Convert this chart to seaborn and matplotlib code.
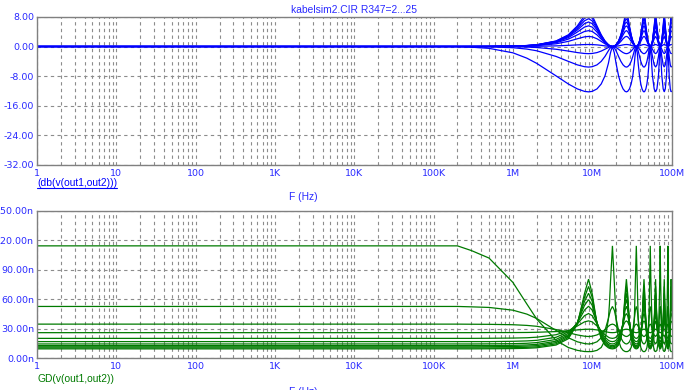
import numpy as np
import pandas as pd
import matplotlib
matplotlib.use('Agg')
import matplotlib.pyplot as plt
from matplotlib.ticker import LogLocator, FixedLocator, FixedFormatter, NullFormatter
from matplotlib.lines import Line2D
import seaborn as sns

# sweep frequencies (Hz), shared by every trace
freq_hz = [1, 2e5, 3e5, 5e5, 1e6, 1.5e6, 2e6, 3.5e6, 5e6, 6.5e6, 8e6, 9e6, 10e6, 11.5e6, 13e6, 14.5e6, 16e6, 16.5e6, 17e6, 18e6,
           19e6, 20e6, 21.5e6, 23e6, 24.5e6, 26e6, 27e6, 28e6, 29.5e6, 31e6, 32.5e6, 34e6, 35e6, 36e6,
           37e6, 38e6, 39.5e6, 41e6, 42.5e6, 44e6, 45e6, 46e6, 47.5e6, 49e6, 50.5e6, 52e6, 53e6, 54e6,
           55e6, 57.5e6, 60.5e6, 63e6, 65.5e6, 68.5e6, 71e6, 72e6,
           73e6, 75.5e6, 78.5e6, 81e6, 83.5e6, 86.5e6, 89e6, 90e6,
           91e6, 93.5e6, 96.5e6, 99e6, 100e6]

r347 = [2, 4.3, 6.6, 8.9, 11.2, 13.5, 15.8, 18.1, 20.4, 22.7, 25]

# db(v(out1,out2)) for each R347 step
db_0 = [0, 0, -0.19, -0.50, -1.71, -3.16, -4.58, -7.96, -10.16, -11.50, -12.17, -12.30, -12.17, -11.50, -10.16, -7.96, -4.58, -3.16, -1.71, 0,
        -1.71, -4.58, -7.96, -10.16, -11.50, -12.17, -12.30, -12.17, -11.50, -10.16, -7.96, -4.58, -1.71, 0,
        -1.71, -4.58, -7.96, -10.16, -11.50, -12.17, -12.30, -12.17, -11.50, -10.16, -7.96, -4.58, -1.71, 0,
        -1.71, -7.96, -11.50, -12.30, -11.50, -7.96, -1.71, 0,
        -1.71, -7.96, -11.50, -12.30, -11.50, -7.96, -1.71, 0,
        -1.71, -7.96, -11.50, -12.30, -12.17]
db_1 = [0, 0, -0.03, -0.09, -0.33, -0.70, -1.16, -2.69, -4.03, -4.98, -5.48, -5.58, -5.48, -4.98, -4.03, -2.69, -1.16, -0.70, -0.33, 0,
        -0.33, -1.16, -2.69, -4.03, -4.98, -5.48, -5.58, -5.48, -4.98, -4.03, -2.69, -1.16, -0.33, 0,
        -0.33, -1.16, -2.69, -4.03, -4.98, -5.48, -5.58, -5.48, -4.98, -4.03, -2.69, -1.16, -0.33, 0,
        -0.33, -2.69, -4.98, -5.58, -4.98, -2.69, -0.33, 0,
        -0.33, -2.69, -4.98, -5.58, -4.98, -2.69, -0.33, 0,
        -0.33, -2.69, -4.98, -5.58, -5.48]
db_2 = [0, 0, -0.01, -0.02, -0.07, -0.16, -0.28, -0.74, -1.24, -1.65, -1.89, -1.94, -1.89, -1.65, -1.24, -0.74, -0.28, -0.16, -0.07, 0,
        -0.07, -0.28, -0.74, -1.24, -1.65, -1.89, -1.94, -1.89, -1.65, -1.24, -0.74, -0.28, -0.07, 0,
        -0.07, -0.28, -0.74, -1.24, -1.65, -1.89, -1.94, -1.89, -1.65, -1.24, -0.74, -0.28, -0.07, 0,
        -0.07, -0.74, -1.65, -1.94, -1.65, -0.74, -0.07, 0,
        -0.07, -0.74, -1.65, -1.94, -1.65, -0.74, -0.07, 0,
        -0.07, -0.74, -1.65, -1.94, -1.89]
db_3 = [0, 0, 0.00, 0.00, 0.02, 0.03, 0.06, 0.17, 0.31, 0.44, 0.52, 0.54, 0.52, 0.44, 0.31, 0.17, 0.06, 0.03, 0.02, 0,
        0.02, 0.06, 0.17, 0.31, 0.44, 0.52, 0.54, 0.52, 0.44, 0.31, 0.17, 0.06, 0.02, 0,
        0.02, 0.06, 0.17, 0.31, 0.44, 0.52, 0.54, 0.52, 0.44, 0.31, 0.17, 0.06, 0.02, 0,
        0.02, 0.17, 0.44, 0.54, 0.44, 0.17, 0.02, 0,
        0.02, 0.17, 0.44, 0.54, 0.44, 0.17, 0.02, 0,
        0.02, 0.17, 0.44, 0.54, 0.52]
db_4 = [0, 0, 0.01, 0.02, 0.06, 0.14, 0.24, 0.73, 1.39, 2.10, 2.62, 2.73, 2.62, 2.10, 1.39, 0.73, 0.24, 0.14, 0.06, 0,
        0.06, 0.24, 0.73, 1.39, 2.10, 2.62, 2.73, 2.62, 2.10, 1.39, 0.73, 0.24, 0.06, 0,
        0.06, 0.24, 0.73, 1.39, 2.10, 2.62, 2.73, 2.62, 2.10, 1.39, 0.73, 0.24, 0.06, 0,
        0.06, 0.73, 2.10, 2.73, 2.10, 0.73, 0.06, 0,
        0.06, 0.73, 2.10, 2.73, 2.10, 0.73, 0.06, 0,
        0.06, 0.73, 2.10, 2.73, 2.62]
db_5 = [0, 0, 0.01, 0.02, 0.08, 0.19, 0.33, 1.01, 2.00, 3.15, 4.08, 4.29, 4.08, 3.15, 2.00, 1.01, 0.33, 0.19, 0.08, 0,
        0.08, 0.33, 1.01, 2.00, 3.15, 4.08, 4.29, 4.08, 3.15, 2.00, 1.01, 0.33, 0.08, 0,
        0.08, 0.33, 1.01, 2.00, 3.15, 4.08, 4.29, 4.08, 3.15, 2.00, 1.01, 0.33, 0.08, 0,
        0.08, 1.01, 3.15, 4.29, 3.15, 1.01, 0.08, 0,
        0.08, 1.01, 3.15, 4.29, 3.15, 1.01, 0.08, 0,
        0.08, 1.01, 3.15, 4.29, 4.08]
db_6 = [0, 0, 0.01, 0.02, 0.10, 0.22, 0.39, 1.18, 2.40, 3.93, 5.27, 5.60, 5.27, 3.93, 2.40, 1.18, 0.39, 0.22, 0.10, 0,
        0.10, 0.39, 1.18, 2.40, 3.93, 5.27, 5.60, 5.27, 3.93, 2.40, 1.18, 0.39, 0.10, 0,
        0.10, 0.39, 1.18, 2.40, 3.93, 5.27, 5.60, 5.27, 3.93, 2.40, 1.18, 0.39, 0.10, 0,
        0.10, 1.18, 3.93, 5.60, 3.93, 1.18, 0.10, 0,
        0.10, 1.18, 3.93, 5.60, 3.93, 1.18, 0.10, 0,
        0.10, 1.18, 3.93, 5.60, 5.27]
db_7 = [0, 0, 0.01, 0.03, 0.10, 0.23, 0.42, 1.30, 2.68, 4.48, 6.20, 6.65, 6.20, 4.48, 2.68, 1.30, 0.42, 0.23, 0.10, 0,
        0.10, 0.42, 1.30, 2.68, 4.48, 6.20, 6.65, 6.20, 4.48, 2.68, 1.30, 0.42, 0.10, 0,
        0.10, 0.42, 1.30, 2.68, 4.48, 6.20, 6.65, 6.20, 4.48, 2.68, 1.30, 0.42, 0.10, 0,
        0.10, 1.30, 4.48, 6.65, 4.48, 1.30, 0.10, 0,
        0.10, 1.30, 4.48, 6.65, 4.48, 1.30, 0.10, 0,
        0.10, 1.30, 4.48, 6.65, 6.20]
db_8 = [0, 0, 0.01, 0.03, 0.11, 0.25, 0.44, 1.37, 2.87, 4.90, 6.96, 7.54, 6.96, 4.90, 2.87, 1.37, 0.44, 0.25, 0.11, 0,
        0.11, 0.44, 1.37, 2.87, 4.90, 6.96, 7.54, 6.96, 4.90, 2.87, 1.37, 0.44, 0.11, 0,
        0.11, 0.44, 1.37, 2.87, 4.90, 6.96, 7.54, 6.96, 4.90, 2.87, 1.37, 0.44, 0.11, 0,
        0.11, 1.37, 4.90, 7.54, 4.90, 1.37, 0.11, 0,
        0.11, 1.37, 4.90, 7.54, 4.90, 1.37, 0.11, 0,
        0.11, 1.37, 4.90, 7.54, 6.96]
db_9 = [0, 0, 0.01, 0.03, 0.11, 0.26, 0.46, 1.44, 3.03, 5.27, 7.69, 8.40, 7.69, 5.27, 3.03, 1.44, 0.46, 0.26, 0.11, 0,
        0.11, 0.46, 1.44, 3.03, 5.27, 7.69, 8.40, 7.69, 5.27, 3.03, 1.44, 0.46, 0.11, 0,
        0.11, 0.46, 1.44, 3.03, 5.27, 7.69, 8.40, 7.69, 5.27, 3.03, 1.44, 0.46, 0.11, 0,
        0.11, 1.44, 5.27, 8.40, 5.27, 1.44, 0.11, 0,
        0.11, 1.44, 5.27, 8.40, 5.27, 1.44, 0.11, 0,
        0.11, 1.44, 5.27, 8.40, 7.69]
db_10 = [0, 0, 0.01, 0.03, 0.12, 0.26, 0.47, 1.49, 3.16, 5.59, 8.37, 9.24, 8.37, 5.59, 3.16, 1.49, 0.47, 0.26, 0.12, 0,
         0.12, 0.47, 1.49, 3.16, 5.59, 8.37, 9.24, 8.37, 5.59, 3.16, 1.49, 0.47, 0.12, 0,
         0.12, 0.47, 1.49, 3.16, 5.59, 8.37, 9.24, 8.37, 5.59, 3.16, 1.49, 0.47, 0.12, 0,
         0.12, 1.49, 5.59, 9.24, 5.59, 1.49, 0.12, 0,
         0.12, 1.49, 5.59, 9.24, 5.59, 1.49, 0.12, 0,
         0.12, 1.49, 5.59, 9.24, 8.37]

# GD(v(out1,out2)) in ns for each R347 step
gd_0 = [114.5, 114.5, 109.7, 102.1, 77.3, 55.3, 39.9, 18.3, 11.0, 8.1, 6.9, 6.8, 6.9, 8.1, 11.0, 18.3, 39.9, 55.3, 77.3, 114.5,
        77.3, 39.9, 18.3, 11.0, 8.1, 6.9, 6.8, 6.9, 8.1, 11.0, 18.3, 39.9, 77.3, 114.5,
        77.3, 39.9, 18.3, 11.0, 8.1, 6.9, 6.8, 6.9, 8.1, 11.0, 18.3, 39.9, 77.3, 114.5,
        77.3, 18.3, 8.1, 6.8, 8.1, 18.3, 77.3, 114.5,
        77.3, 18.3, 8.1, 6.8, 8.1, 18.3, 77.3, 114.5,
        77.3, 18.3, 8.1, 6.8, 6.9]
gd_1 = [52.8, 52.8, 52.4, 51.8, 49.0, 45.0, 40.5, 28.4, 20.9, 16.8, 15.0, 14.6, 15.0, 16.8, 20.9, 28.4, 40.5, 45.0, 49.0, 52.8,
        49.0, 40.5, 28.4, 20.9, 16.8, 15.0, 14.6, 15.0, 16.8, 20.9, 28.4, 40.5, 49.0, 52.8,
        49.0, 40.5, 28.4, 20.9, 16.8, 15.0, 14.6, 15.0, 16.8, 20.9, 28.4, 40.5, 49.0, 52.8,
        49.0, 28.4, 16.8, 14.6, 16.8, 28.4, 49.0, 52.8,
        49.0, 28.4, 16.8, 14.6, 16.8, 28.4, 49.0, 52.8,
        49.0, 28.4, 16.8, 14.6, 15.0]
gd_2 = [34.8, 34.8, 34.7, 34.6, 34.2, 33.5, 32.6, 29.3, 26.1, 23.8, 22.5, 22.2, 22.5, 23.8, 26.1, 29.3, 32.6, 33.5, 34.2, 34.8,
        34.2, 32.6, 29.3, 26.1, 23.8, 22.5, 22.2, 22.5, 23.8, 26.1, 29.3, 32.6, 34.2, 34.8,
        34.2, 32.6, 29.3, 26.1, 23.8, 22.5, 22.2, 22.5, 23.8, 26.1, 29.3, 32.6, 34.2, 34.8,
        34.2, 29.3, 23.8, 22.2, 23.8, 29.3, 34.2, 34.8,
        34.2, 29.3, 23.8, 22.2, 23.8, 29.3, 34.2, 34.8,
        34.2, 29.3, 23.8, 22.2, 22.5]
gd_3 = [26.1, 26.1, 26.1, 26.2, 26.2, 26.3, 26.5, 27.2, 28.1, 28.9, 29.5, 29.6, 29.5, 28.9, 28.1, 27.2, 26.5, 26.3, 26.2, 26.1,
        26.2, 26.5, 27.2, 28.1, 28.9, 29.5, 29.6, 29.5, 28.9, 28.1, 27.2, 26.5, 26.2, 26.1,
        26.2, 26.5, 27.2, 28.1, 28.9, 29.5, 29.6, 29.5, 28.9, 28.1, 27.2, 26.5, 26.2, 26.1,
        26.2, 27.2, 28.9, 29.6, 28.9, 27.2, 26.2, 26.1,
        26.2, 27.2, 28.9, 29.6, 28.9, 27.2, 26.2, 26.1,
        26.2, 27.2, 28.9, 29.6, 29.5]
gd_4 = [20.3, 20.3, 20.3, 20.4, 20.6, 20.9, 21.5, 24.0, 28.0, 32.9, 37.1, 38.1, 37.1, 32.9, 28.0, 24.0, 21.5, 20.9, 20.6, 20.3,
        20.6, 21.5, 24.0, 28.0, 32.9, 37.1, 38.1, 37.1, 32.9, 28.0, 24.0, 21.5, 20.6, 20.3,
        20.6, 21.5, 24.0, 28.0, 32.9, 37.1, 38.1, 37.1, 32.9, 28.0, 24.0, 21.5, 20.6, 20.3,
        20.6, 24.0, 32.9, 38.1, 32.9, 24.0, 20.6, 20.3,
        20.6, 24.0, 32.9, 38.1, 32.9, 24.0, 20.6, 20.3,
        20.6, 24.0, 32.9, 38.1, 37.1]
gd_5 = [17.0, 17.0, 17.0, 17.0, 17.3, 17.7, 18.3, 21.4, 26.9, 35.0, 43.4, 45.6, 43.4, 35.0, 26.9, 21.4, 18.3, 17.7, 17.3, 17.0,
        17.3, 18.3, 21.4, 26.9, 35.0, 43.4, 45.6, 43.4, 35.0, 26.9, 21.4, 18.3, 17.3, 17.0,
        17.3, 18.3, 21.4, 26.9, 35.0, 43.4, 45.6, 43.4, 35.0, 26.9, 21.4, 18.3, 17.3, 17.0,
        17.3, 21.4, 35.0, 45.6, 35.0, 21.4, 17.3, 17.0,
        17.3, 21.4, 35.0, 45.6, 35.0, 21.4, 17.3, 17.0,
        17.3, 21.4, 35.0, 45.6, 43.4]
gd_6 = [14.6, 14.6, 14.6, 14.7, 14.9, 15.3, 16.0, 19.2, 25.4, 36.0, 49.1, 53.0, 49.1, 36.0, 25.4, 19.2, 16.0, 15.3, 14.9, 14.6,
        14.9, 16.0, 19.2, 25.4, 36.0, 49.1, 53.0, 49.1, 36.0, 25.4, 19.2, 16.0, 14.9, 14.6,
        14.9, 16.0, 19.2, 25.4, 36.0, 49.1, 53.0, 49.1, 36.0, 25.4, 19.2, 16.0, 14.9, 14.6,
        14.9, 19.2, 36.0, 53.0, 36.0, 19.2, 14.9, 14.6,
        14.9, 19.2, 36.0, 53.0, 36.0, 19.2, 14.9, 14.6,
        14.9, 19.2, 36.0, 53.0, 49.1]
gd_7 = [12.9, 12.9, 13.0, 13.0, 13.2, 13.6, 14.2, 17.4, 23.9, 36.3, 53.9, 59.8, 53.9, 36.3, 23.9, 17.4, 14.2, 13.6, 13.2, 12.9,
        13.2, 14.2, 17.4, 23.9, 36.3, 53.9, 59.8, 53.9, 36.3, 23.9, 17.4, 14.2, 13.2, 12.9,
        13.2, 14.2, 17.4, 23.9, 36.3, 53.9, 59.8, 53.9, 36.3, 23.9, 17.4, 14.2, 13.2, 12.9,
        13.2, 17.4, 36.3, 59.8, 36.3, 17.4, 13.2, 12.9,
        13.2, 17.4, 36.3, 59.8, 36.3, 17.4, 13.2, 12.9,
        13.2, 17.4, 36.3, 59.8, 53.9]
gd_8 = [11.7, 11.7, 11.7, 11.8, 12.0, 12.4, 12.9, 16.0, 22.6, 36.1, 58.0, 66.2, 58.0, 36.1, 22.6, 16.0, 12.9, 12.4, 12.0, 11.7,
        12.0, 12.9, 16.0, 22.6, 36.1, 58.0, 66.2, 58.0, 36.1, 22.6, 16.0, 12.9, 12.0, 11.7,
        12.0, 12.9, 16.0, 22.6, 36.1, 58.0, 66.2, 58.0, 36.1, 22.6, 16.0, 12.9, 12.0, 11.7,
        12.0, 16.0, 36.1, 66.2, 36.1, 16.0, 12.0, 11.7,
        12.0, 16.0, 36.1, 66.2, 36.1, 16.0, 12.0, 11.7,
        12.0, 16.0, 36.1, 66.2, 58.0]
gd_9 = [10.6, 10.6, 10.6, 10.6, 10.8, 11.2, 11.7, 14.7, 21.2, 35.5, 62.1, 73.2, 62.1, 35.5, 21.2, 14.7, 11.7, 11.2, 10.8, 10.6,
        10.8, 11.7, 14.7, 21.2, 35.5, 62.1, 73.2, 62.1, 35.5, 21.2, 14.7, 11.7, 10.8, 10.6,
        10.8, 11.7, 14.7, 21.2, 35.5, 62.1, 73.2, 62.1, 35.5, 21.2, 14.7, 11.7, 10.8, 10.6,
        10.8, 14.7, 35.5, 73.2, 35.5, 14.7, 10.8, 10.6,
        10.8, 14.7, 35.5, 73.2, 35.5, 14.7, 10.8, 10.6,
        10.8, 14.7, 35.5, 73.2, 62.1]
gd_10 = [9.6, 9.6, 9.6, 9.7, 9.9, 10.2, 10.7, 13.5, 19.9, 34.7, 65.9, 80.6, 65.9, 34.7, 19.9, 13.5, 10.7, 10.2, 9.9, 9.6,
         9.9, 10.7, 13.5, 19.9, 34.7, 65.9, 80.6, 65.9, 34.7, 19.9, 13.5, 10.7, 9.9, 9.6,
         9.9, 10.7, 13.5, 19.9, 34.7, 65.9, 80.6, 65.9, 34.7, 19.9, 13.5, 10.7, 9.9, 9.6,
         9.9, 13.5, 34.7, 80.6, 34.7, 13.5, 9.9, 9.6,
         9.9, 13.5, 34.7, 80.6, 34.7, 13.5, 9.9, 9.6,
         9.9, 13.5, 34.7, 80.6, 65.9]

db_traces = [db_0, db_1, db_2, db_3, db_4, db_5, db_6, db_7, db_8, db_9, db_10]
gd_traces = [gd_0, gd_1, gd_2, gd_3, gd_4, gd_5, gd_6, gd_7, gd_8, gd_9, gd_10]

x_tick_vals = [1, 10, 100, 1e3, 1e4, 1e5, 1e6, 1e7, 1e8]
x_tick_text = ['1', '10', '100', '1K', '10K', '100K', '1M', '10M', '100M']
db_ticks = [-32, -24, -16, -8, 0, 8]
gd_ticks = [0, 30, 60, 90, 120, 150]

sns.set_theme(style='white')
plt.rcParams['font.family'] = ['Liberation Sans', 'DejaVu Sans']
plt.rcParams['lines.solid_joinstyle'] = 'miter'

LABEL_BLUE = '#2a2aff'
GRID = '#8c8c8c'
FS = 7.4
TICK_FS = 6.8


def build_frame(traces):
    rows = []
    for r, vals in zip(r347, traces):
        rows.append(pd.DataFrame({'f': freq_hz, 'v': vals, 'r': r}))
    return pd.concat(rows, ignore_index=True)


def style_axes(ax, yticks, yfmt, ylim):
    ax.set_xscale('log')
    ax.set_xlim(1, 1e8)
    ax.set_ylim(*ylim)
    ax.xaxis.set_major_locator(FixedLocator(x_tick_vals))
    ax.xaxis.set_major_formatter(FixedFormatter(x_tick_text))
    ax.xaxis.set_minor_locator(LogLocator(base=10, subs=np.arange(2, 10), numticks=20))
    ax.xaxis.set_minor_formatter(NullFormatter())
    ax.yaxis.set_major_locator(FixedLocator(yticks))
    ax.set_yticklabels([yfmt % t for t in yticks])
    ax.tick_params(axis='both', which='both', length=0, labelsize=TICK_FS,
                   labelcolor=LABEL_BLUE, labelfontfamily='DejaVu Sans')
    ax.tick_params(axis='x', pad=3)
    ax.tick_params(axis='y', pad=2)
    ax.grid(True, which='both', axis='x', color=GRID, ls=(0, (3, 3)), lw=0.8)
    ax.grid(True, which='major', axis='y', color=GRID, ls=(0, (3, 3)), lw=0.8)
    ax.set_xlabel('')
    ax.set_ylabel('')
    for s in ax.spines.values():
        s.set_color('#808080')
        s.set_linewidth(1.0)


fig = plt.figure(figsize=(6.91, 3.90), dpi=100)
fig.patch.set_facecolor('white')
ax1 = fig.add_axes([37 / 691, 1 - 164.5 / 390, 634.5 / 691, 147.5 / 390])
ax2 = fig.add_axes([37 / 691, 1 - 358.3 / 390, 634.5 / 691, 147.3 / 390])

db_df = build_frame(db_traces)
gd_df = build_frame(gd_traces)

sns.lineplot(data=db_df, x='f', y='v', hue='r', units='r', estimator=None, sort=False,
             palette=['#0000ff'] * len(r347), legend=False, lw=0.9, ax=ax1)
sns.lineplot(data=gd_df, x='f', y='v', hue='r', units='r', estimator=None, sort=False,
             palette=['#007a00'] * len(r347), legend=False, lw=0.9, ax=ax2)

style_axes(ax1, db_ticks, '%.2f', (-32, 8))
style_axes(ax2, gd_ticks, '%.2fn', (0, 150))

fig.text(354 / 691, 1 - 10 / 390, 'kabelsim2.CIR R347=2...25', ha='center', va='center',
         fontsize=FS, color=LABEL_BLUE)
t1 = fig.text(37 / 691, 1 - 183 / 390, '(db(v(out1,out2)))', ha='left', va='center',
              fontsize=FS, color='#0000ff')
fig.text(303 / 691, 1 - 197 / 390, 'F (Hz)', ha='center', va='center', fontsize=FS, color=LABEL_BLUE)
fig.text(37 / 691, 1 - 379 / 390, 'GD(v(out1,out2))', ha='left', va='center', fontsize=FS, color='#007a00')
fig.text(303 / 691, 1 - 392 / 390, 'F (Hz)', ha='center', va='center', fontsize=FS, color=LABEL_BLUE)

# underline the upper trace name like the simulator does
fig.canvas.draw()
bb = t1.get_window_extent()
fig.add_artist(Line2D([bb.x0 / 691, bb.x1 / 691], [(bb.y0 - 0.5) / 390, (bb.y0 - 0.5) / 390],
                      transform=fig.transFigure, color='#0000ff', lw=0.8))

fig.savefig('out.png', dpi=100, facecolor='white')
